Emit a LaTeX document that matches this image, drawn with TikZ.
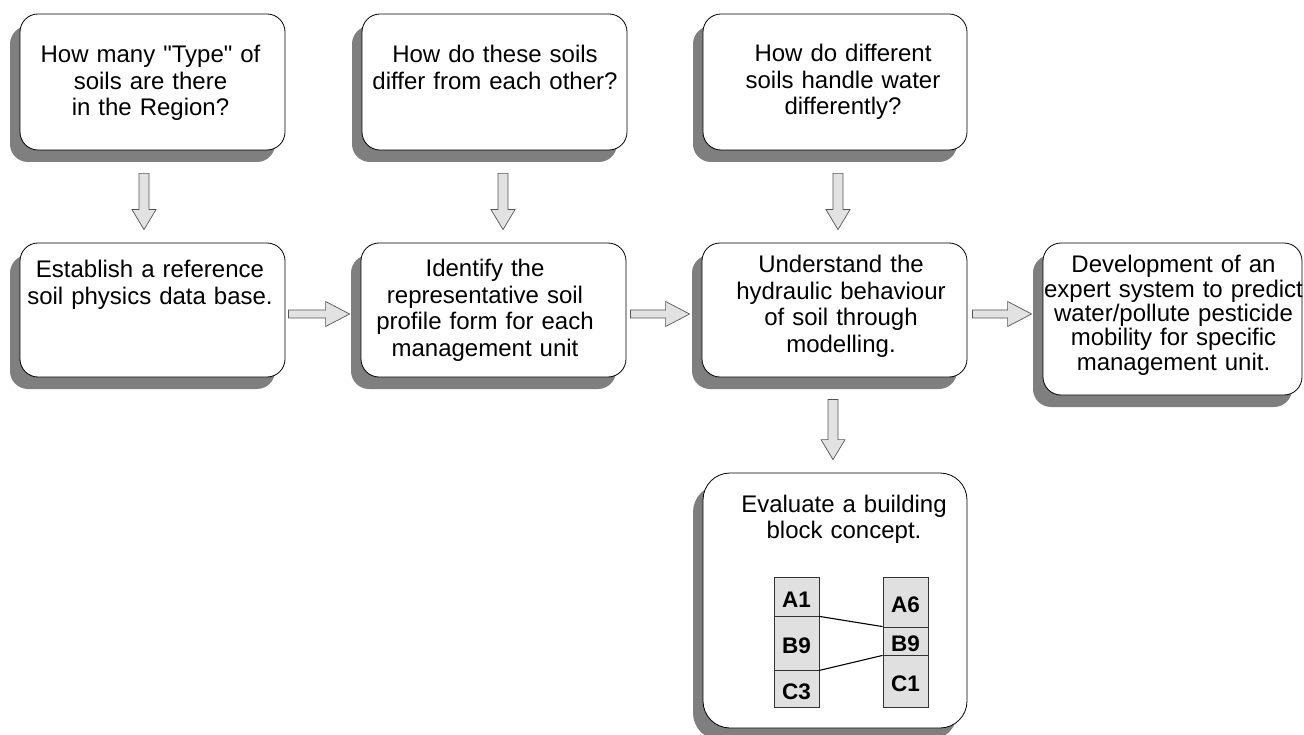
\documentclass[tikz,border=0pt]{standalone}
\usepackage{fontspec}
\newfontfamily\boxfont{Liberation Sans}
\usetikzlibrary{calc,shadows}
\definecolor{shadowgray}{HTML}{7F7F7F}
\definecolor{arrowfill}{HTML}{E2E2E2}
\definecolor{arrowline}{HTML}{555555}
\definecolor{cellfill}{HTML}{E0E0E0}
\definecolor{cellline}{HTML}{333333}

\begin{document}
\begin{tikzpicture}[x=1pt,y=-1pt,
  box/.style={draw=black, line width=0.8pt, fill=white, rounded corners=18pt,
    inner sep=0pt,
    drop shadow={shadow xshift=-10pt, shadow yshift=-12pt, fill=shadowgray, opacity=1}},
  txt/.style={font=\boxfont\fontsize{24}{26.5}\selectfont, text width=320pt, align=center,
    inner sep=0pt, anchor=base},
  downarr/.style={fill=arrowfill, draw=arrowline, line width=0.7pt,
    to path={let \p1=(\tikztostart), \p2=(\tikztotarget) in
      (\x1-5pt,\y1) -- (\x1+5pt,\y1) -- (\x1+5pt,\y2+20pt) -- (\x1+12pt,\y2+20pt)
      -- (\x1,\y2) -- (\x1-12pt,\y2+20pt) -- (\x1-5pt,\y2+20pt) -- cycle}},
  rightarr/.style={fill=arrowfill, draw=arrowline, line width=0.7pt,
    to path={let \p1=(\tikztostart), \p2=(\tikztotarget) in
      (\x1,\y1+4pt) -- (\x2-24pt,\y1+4pt) -- (\x2-24pt,\y1+12.5pt) -- (\x2,\y1)
      -- (\x2-24pt,\y1-12.5pt) -- (\x2-24pt,\y1-4pt) -- (\x1,\y1-4pt) -- cycle}},
  cell/.style={draw=cellline, fill=cellfill, line width=0.8pt, inner sep=0pt,
    minimum width=45pt, font=\boxfont\fontsize{22.5}{23}\selectfont\bfseries,
    text height=21pt, text depth=0pt}
]
\useasboundingbox (0,0) rectangle (1304,735);

% question boxes
\node[box, minimum width=265pt, minimum height=136pt] (q1) at (152.5,82) {};
\node[box, minimum width=265pt, minimum height=136pt] (q2) at (494.5,82) {};
\node[box, minimum width=264pt, minimum height=136pt] (q3) at (835,82) {};

% step boxes
\node[box, minimum width=265pt, minimum height=134pt] (s1) at (152.5,310) {};
\node[box, minimum width=265pt, minimum height=134pt] (s2) at (493.5,310) {};
\node[box, minimum width=265pt, minimum height=134pt] (s3) at (834.5,310) {};
\node[box, minimum width=259pt, minimum height=152pt] (s4) at (1172.5,319) {};
\node[box, rounded corners=27pt, minimum width=264pt, minimum height=255pt] (s5) at (835,600.5) {};

% texts
\node[txt] (t1) at (150.5,63) {How many "Type" of\\ soils are there\\ in the Region?};
\node[txt] (t2) at (495,63) {How do these soils\\ differ from each other?};
\node[txt] (t3) at (843,62) {How do different\\ soils handle water\\ differently?};
\node[txt] (u1) at (150,278) {Establish a reference\\ soil physics data base.};
\node[txt] (u2) at (485,277) {Identify the\\ representative soil\\ profile form for each\\ management unit};
\node[txt] (u3) at (841,273) {Understand the\\ hydraulic behaviour\\ of soil through\\ modelling.};
\node[txt, font=\boxfont\fontsize{24}{24.3}\selectfont] (u4) at (1173.5,273) {Development of an\\ expert system to predict\\ water/pollute pesticide\\ mobility for specific\\ management unit.};
\node[txt, font=\boxfont\fontsize{24}{26}\selectfont] (u5) at (844,512) {Evaluate a building\\ block concept.};

% arrow end points
\coordinate (d1a) at ($(q1.south)+(-8.5,23)$);
\coordinate (d1b) at ($(s1.north)+(-8.5,-13)$);
\coordinate (d2a) at ($(q2.south)+(8.5,23)$);
\coordinate (d2b) at ($(s2.north)+(9.5,-13)$);
\coordinate (d3a) at ($(q3.south)+(3,23)$);
\coordinate (d3b) at ($(s3.north)+(3.5,-13)$);
\coordinate (d4a) at ($(s3.south)+(-1.5,22)$);
\coordinate (d4b) at ($(s5.north)+(-2,-13)$);
\coordinate (r1a) at ($(s1.east)+(3,4)$);
\coordinate (r1b) at ($(s2.west)+(-11,4)$);
\coordinate (r2a) at ($(s2.east)+(4,4)$);
\coordinate (r2b) at ($(s3.west)+(-12,4)$);
\coordinate (r3a) at ($(s3.east)+(5,4)$);
\coordinate (r3b) at ($(s4.west)+(-11,-5)$);

% block arrows
\draw[downarr] (d1a) to (d1b);
\draw[downarr] (d2a) to (d2b);
\draw[downarr] (d3a) to (d3b);
\draw[downarr] (d4a) to (d4b);
\draw[rightarr] (r1a) to (r1b);
\draw[rightarr] (r2a) to (r2b);
\draw[rightarr] (r3a) to (r3b);

% building blocks
\node[cell, minimum height=39pt] (a1) at (796.5,596.5) {A1};
\node[cell, minimum height=54pt] (b9l) at (796.5,643) {B9};
\node[cell, minimum height=37pt] (c3) at (796.5,688.5) {C3};
\node[cell, minimum height=50pt] (a6) at (905.5,602) {A6};
\node[cell, minimum height=28pt] (b9r) at (905.5,641) {B9};
\node[cell, minimum height=52pt] (c1) at (905.5,681) {C1};
\draw[line width=1.1pt] (a1.south east) -- (b9r.north west);
\draw[line width=1.1pt] (b9l.south east) -- (b9r.south west);
\end{tikzpicture}
\end{document}
